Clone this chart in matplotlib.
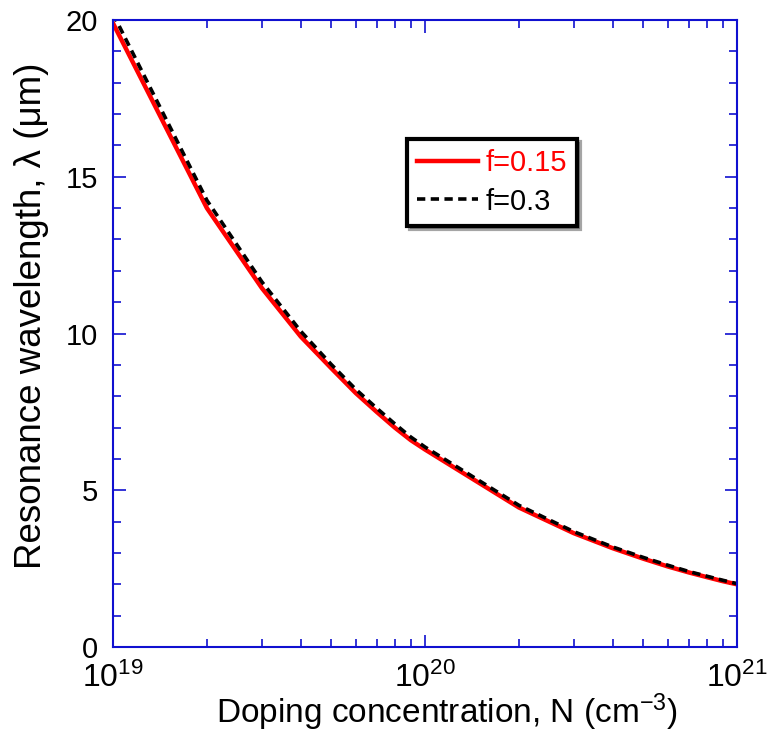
import matplotlib
matplotlib.use("Agg")
import matplotlib.pyplot as plt
from matplotlib.ticker import LogLocator, MultipleLocator, FixedLocator

plt.rcParams['font.family'] = ['Liberation Sans', 'DejaVu Sans']
plt.rcParams['mathtext.fontset'] = 'custom'
plt.rcParams['mathtext.rm'] = 'Liberation Sans'
plt.rcParams['mathtext.it'] = 'Liberation Sans'

# Doping concentration (cm^-3)
N = [1e19, 2e19, 3e19, 4e19, 5e19, 6e19, 7e19, 8e19, 9e19, 1e20,
     2e20, 3e20, 4e20, 5e20, 6e20, 7e20, 8e20, 9e20, 1e21]
# Resonance wavelength (um)
lam_f015 = [19.9, 14.0, 11.45, 9.9, 8.9, 8.1, 7.5, 7.0, 6.6, 6.3,
            4.45, 3.63, 3.15, 2.82, 2.57, 2.38, 2.23, 2.1, 2.0]
lam_f03 = [20.2, 14.25, 11.65, 10.07, 9.02, 8.22, 7.62, 7.12, 6.7, 6.38,
           4.52, 3.68, 3.19, 2.86, 2.61, 2.41, 2.26, 2.13, 2.02]
labels = ["f=0.15", "f=0.3"]
xtick_vals = [1e19, 1e20, 1e21]
xtick_labels = [r"$10^{19}$", r"$10^{20}$", r"$10^{21}$"]

blue = "#1010d0"

fig = plt.figure(figsize=(7.67, 7.33), dpi=100)
ax = fig.add_axes([0.1473, 0.1173, 0.8136, 0.8554])

ax.plot(N, lam_f015, color="#ff0000", lw=3.2, label=labels[0])
ax.plot(N, lam_f03, color="black", lw=2.6, ls=(0, (2.3, 1.5)), label=labels[1])

ax.set_xscale("log")
ax.set_xlim(1e19, 1e21)
ax.set_ylim(0, 20)

ax.xaxis.set_major_locator(FixedLocator(xtick_vals))
ax.xaxis.set_minor_locator(LogLocator(base=10, subs=range(2, 10)))
ax.set_xticklabels(xtick_labels)
ax.yaxis.set_major_locator(MultipleLocator(5))
ax.yaxis.set_minor_locator(MultipleLocator(1))

for s in ax.spines.values():
    s.set_color(blue)
    s.set_linewidth(1.5)

ax.tick_params(which="both", direction="in", top=True, right=True, color=blue, width=1.2)
ax.tick_params(which="major", length=9)
ax.tick_params(which="minor", length=5.5)
ax.tick_params(axis="y", labelsize=21, pad=11)
ax.tick_params(axis="x", labelsize=23, pad=11)

ax.set_xlabel(r"Doping concentration, N (cm$^{-3}$)", fontsize=24)
ax.xaxis.set_label_coords(0.535, -0.071)
ax.set_ylabel("Resonance wavelength, λ (μm)", fontsize=26.5)
ax.yaxis.set_label_coords(-0.102, 0.528)

leg = ax.legend(loc="upper left", bbox_to_anchor=(0.471, 0.81), fontsize=21,
                frameon=True, fancybox=False, shadow=True, handlelength=2.1,
                handletextpad=0.25, borderpad=0.35, labelspacing=0.35, borderaxespad=0)
leg.get_frame().set_edgecolor("black")
leg.get_frame().set_linewidth(3)
leg.get_texts()[0].set_color("#ff0000")

fig.savefig("out.png", dpi=100)
